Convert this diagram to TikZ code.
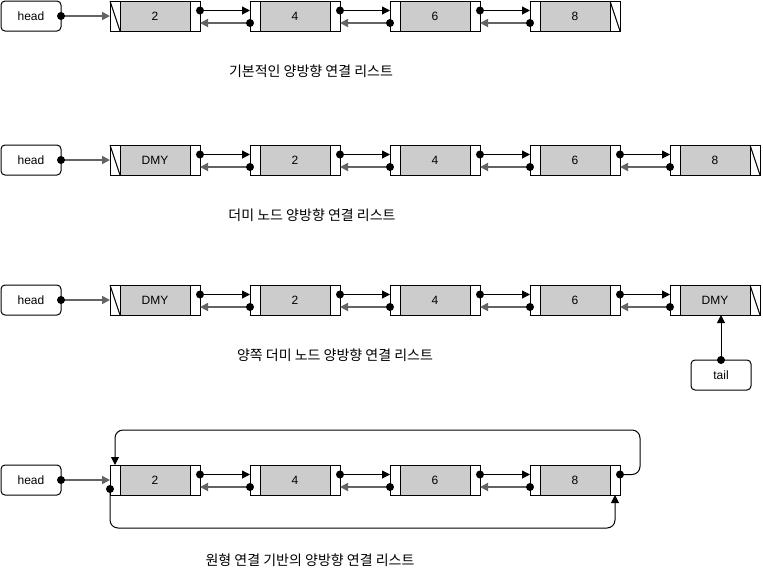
\documentclass[tikz,border=0pt]{standalone}
\usepackage{fontspec}
\setmainfont{Liberation Sans}
\newfontfamily\krfont{Noto Sans CJK KR}
\usetikzlibrary{arrows.meta}
\definecolor{cellgrey}{HTML}{CCCCCC}
\definecolor{linkgrey}{HTML}{646464}
\tikzset{
  cellbox/.style={draw, fill=white, minimum width=90pt, minimum height=30pt, inner sep=0pt, outer sep=0pt, line width=1pt},
  headbox/.style={draw, fill=white, rounded corners=4pt, minimum width=60pt, minimum height=30pt, inner sep=0pt, outer sep=0pt, line width=1pt, font=\fontsize{12pt}{14pt}\selectfont},
  lbl/.style={inner sep=0pt, font=\fontsize{12pt}{14pt}\selectfont},
  captxt/.style={inner sep=0pt, font=\krfont\fontsize{14pt}{16pt}\selectfont},
  fwdline/.style={draw=black, line width=1pt, -{Triangle[length=8pt,width=8pt]}},
  backline/.style={draw=linkgrey, line width=1.7pt, -{Triangle[length=8pt,width=8pt]}},
  dotmark/.style={fill=black},
}
\newcommand\LNode[4]{%
  \node[cellbox] (#1) at (#2+45,#3+15) {};
  \draw[fill=cellgrey, line width=1pt] (#2+10,#3) rectangle (#2+80,#3+30);
  \node[lbl] at (#1.center) {#4};
}
\newcommand\DLink[2]{%
  \draw[fwdline] ([yshift=-9.5pt]#1.north east) -- ([yshift=-9.5pt]#2.north west);
  \fill[dotmark] ([yshift=-9.5pt]#1.north east) circle (4pt);
  \draw[backline] ([yshift=-22pt]#2.north west) -- ([yshift=-22pt]#1.north east);
  \fill[dotmark] ([yshift=-22pt]#2.north west) circle (4pt);
}
\newcommand\HeadLink[2]{%
  \draw[backline] (#1.east) -- (#2.west);
  \fill[dotmark] (#1.east) circle (4pt);
}
\newcommand\NullLeft[1]{\draw[line width=1pt] (#1.north west) -- ([xshift=10pt]#1.south west);}
\newcommand\NullRight[1]{\draw[line width=1pt] ([xshift=-10pt]#1.north east) -- (#1.south east);}
\begin{document}
\begin{tikzpicture}[x=1pt,y=-1pt]
\useasboundingbox[fill=white] (0,0) rectangle (763,571);

% Row 1
\node[headbox] (h1) at (31,16) {head};
\LNode{r1a}{110}{1}{2}
\LNode{r1b}{250}{1}{4}
\LNode{r1c}{390}{1}{6}
\LNode{r1d}{530}{1}{8}
\NullLeft{r1a}
\NullRight{r1d}
\HeadLink{h1}{r1a}
\DLink{r1a}{r1b}
\DLink{r1b}{r1c}
\DLink{r1c}{r1d}
\node[captxt] (c1) at (311,71) {기본적인 양방향 연결 리스트};

% Row 2
\node[headbox] (h2) at (31,160) {head};
\LNode{r2a}{110}{145}{DMY}
\LNode{r2b}{250}{145}{2}
\LNode{r2c}{390}{145}{4}
\LNode{r2d}{530}{145}{6}
\LNode{r2e}{670}{145}{8}
\NullLeft{r2a}
\NullRight{r2e}
\HeadLink{h2}{r2a}
\DLink{r2a}{r2b}
\DLink{r2b}{r2c}
\DLink{r2c}{r2d}
\DLink{r2d}{r2e}
\node[captxt] (c2) at (312,215) {더미 노드 양방향 연결 리스트};

% Row 3
\node[headbox] (h3) at (31,300) {head};
\LNode{r3a}{110}{285}{DMY}
\LNode{r3b}{250}{285}{2}
\LNode{r3c}{390}{285}{4}
\LNode{r3d}{530}{285}{6}
\LNode{r3e}{670}{285}{DMY}
\NullLeft{r3a}
\NullRight{r3e}
\HeadLink{h3}{r3a}
\DLink{r3a}{r3b}
\DLink{r3b}{r3c}
\DLink{r3c}{r3d}
\DLink{r3d}{r3e}
\node[headbox] (t3) at (721,375) {tail};
\draw[fwdline] (t3.north) -- (t3.north |- r3e.south);
\fill[dotmark] (t3.north) circle (4pt);
\node[captxt] (c3) at (335,355) {양쪽 더미 노드 양방향 연결 리스트};

% Row 4
\node[headbox] (h4) at (31,480) {head};
\LNode{r4a}{110}{465}{2}
\LNode{r4b}{250}{465}{4}
\LNode{r4c}{390}{465}{6}
\LNode{r4d}{530}{465}{8}
\HeadLink{h4}{r4a}
\DLink{r4a}{r4b}
\DLink{r4b}{r4c}
\DLink{r4c}{r4d}
\draw[fwdline, rounded corners=8pt] ([yshift=-9.5pt]r4d.north east) -- ++(20,0) |- (115,430) -- ([xshift=5pt]r4a.north west);
\fill[dotmark] ([yshift=-9.5pt]r4d.north east) circle (4pt);
\draw[fwdline, rounded corners=8pt] ([yshift=-24pt]r4a.north west) |- (615,528) -- ([xshift=-5pt]r4d.south east);
\fill[dotmark] ([yshift=-24pt]r4a.north west) circle (4pt);
\node[captxt] (c4) at (310,560) {원형 연결 기반의 양방향 연결 리스트};
\end{tikzpicture}
\end{document}
